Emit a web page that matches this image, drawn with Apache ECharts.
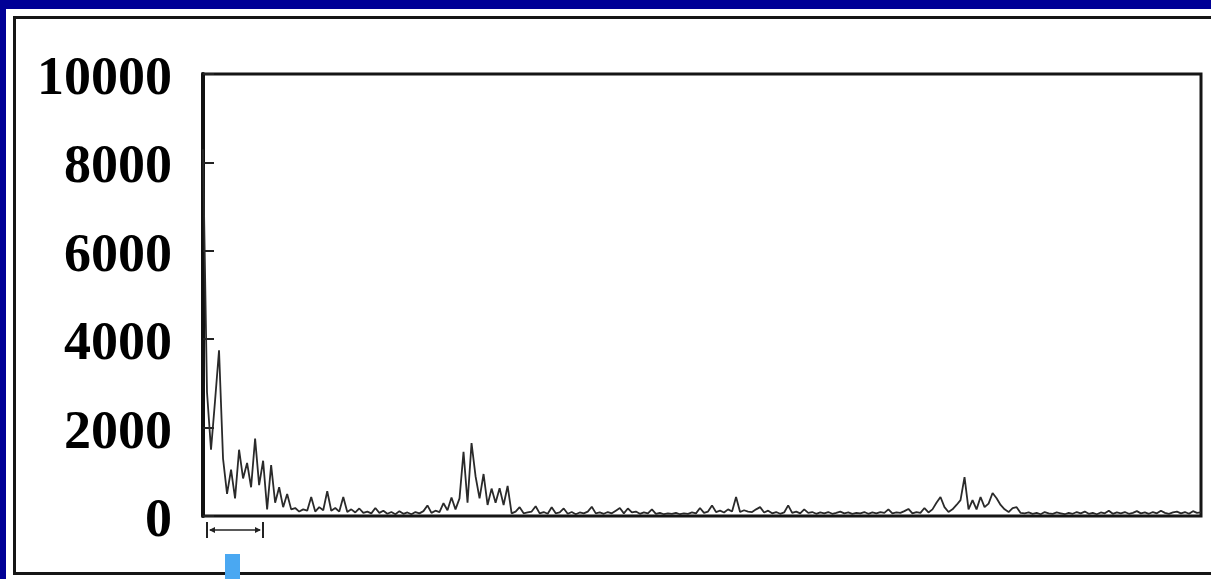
<!DOCTYPE html>
<html>
<head>
<meta charset="utf-8">
<script src="https://cdn.jsdelivr.net/npm/echarts@6/dist/echarts.min.js"></script>
<style>
  html, body { margin: 0; padding: 0; background: #000096; overflow: hidden; }
  #panel { position: absolute; left: 6px; top: 9px; width: 1220px; height: 580px; background: #ffffff; }
  #frame { position: absolute; left: 13px; top: 16px; width: 1230px; height: 553px; border: 3px solid #151515; }
  #chart { position: absolute; left: 0; top: 0; width: 1211px; height: 579px; }
</style>
</head>
<body>
<div id="panel"></div>
<div id="frame"></div>
<div id="chart"></div>
<script>
// y-axis tick labels
const yTicks = [0, 2000, 4000, 6000, 8000, 10000];

// signal intensity, one value per sample (250 samples)
const signal = [
  8300, 2800, 1500, 2600, 3750, 1300, 500, 1050, 400, 1500,
  850, 1200, 650, 1750, 700, 1250, 150, 1150, 300, 650,
  200, 500, 150, 180, 100, 150, 120, 430, 100, 200,
  130, 560, 120, 180, 100, 430, 90, 150, 80, 170,
  70, 100, 60, 180, 70, 120, 50, 90, 40, 110,
  50, 80, 40, 90, 60, 110, 240, 70, 120, 90,
  290, 130, 420, 150, 400, 1450, 300, 1650, 900, 400,
  950, 250, 620, 300, 630, 250, 680, 60, 100, 200,
  60, 80, 100, 220, 60, 90, 50, 200, 60, 80,
  170, 50, 90, 40, 80, 60, 100, 210, 60, 80,
  50, 90, 60, 120, 180, 60, 170, 80, 100, 50,
  80, 60, 150, 50, 70, 40, 60, 50, 70, 40,
  60, 50, 80, 60, 180, 70, 100, 240, 90, 120,
  80, 150, 100, 430, 90, 130, 100, 90, 150, 200,
  80, 120, 60, 90, 50, 80, 240, 70, 100, 60,
  150, 70, 90, 50, 80, 60, 90, 50, 70, 100,
  60, 80, 50, 70, 60, 90, 50, 80, 60, 90,
  70, 150, 60, 80, 70, 110, 160, 60, 90, 70,
  180, 80, 150, 300, 430, 200, 90, 150, 250, 360,
  880, 150, 360, 150, 430, 200, 280, 520, 400, 250,
  150, 90, 180, 200, 70, 60, 80, 50, 70, 40,
  90, 60, 50, 80, 60, 40, 70, 50, 90, 60,
  100, 50, 70, 40, 80, 60, 120, 50, 80, 60,
  90, 50, 70, 110, 60, 80, 50, 90, 60, 120,
  70, 50, 80, 100, 60, 90, 50, 110, 70, 80
];

const samples = signal.map((_, i) => i);

const chart = echarts.init(document.getElementById('chart'), null, { renderer: 'canvas' });

chart.setOption({
  backgroundColor: 'transparent',
  animation: false,
  grid: {
    left: 203, right: 10, top: 74, bottom: 63,
    show: true, borderColor: '#151515', borderWidth: 3,
    backgroundColor: 'transparent'
  },
  xAxis: {
    type: 'category',
    data: samples,
    boundaryGap: false,
    axisLine: { show: false },
    axisTick: { show: false },
    axisLabel: { show: false },
    splitLine: { show: false }
  },
  yAxis: {
    type: 'value',
    min: 0, max: 10000, interval: 2000,
    axisLine: { show: true, lineStyle: { color: '#111', width: 4 } },
    axisTick: { show: true, inside: true, length: 11, lineStyle: { color: '#222', width: 2 } },
    splitLine: { show: false },
    axisLabel: {
      margin: 31,
      color: '#000',
      fontFamily: '"Liberation Serif", "DejaVu Serif", serif',
      fontWeight: 'bold',
      fontSize: 54,
      verticalAlign: 'top',
      lineHeight: 12,
      formatter: v => yTicks.includes(v) ? String(v) : ''
    }
  },
  series: [{
    type: 'line',
    data: signal,
    symbol: 'none',
    lineStyle: { color: '#2a2a2a', width: 1.8 },
    z: 3
  }],
  graphic: [
    // bracket below the x axis
    { type: 'line', z: 50, shape: { x1: 207, y1: 522, x2: 207, y2: 538 }, style: { stroke: '#222', lineWidth: 2 } },
    { type: 'line', z: 50, shape: { x1: 263, y1: 522, x2: 263, y2: 538 }, style: { stroke: '#222', lineWidth: 2 } },
    { type: 'line', z: 50, shape: { x1: 210, y1: 530, x2: 260, y2: 530 }, style: { stroke: '#222', lineWidth: 1.5 } },
    { type: 'polygon', z: 50, shape: { points: [[209, 530], [215, 527], [215, 533]] }, style: { fill: '#222' } },
    { type: 'polygon', z: 50, shape: { points: [[261, 530], [255, 527], [255, 533]] }, style: { fill: '#222' } },
    // blue pointer marker
    { type: 'rect', z: 60, shape: { x: 225, y: 554, width: 15, height: 30 }, style: { fill: '#4aa8f2' } }
  ]
});
</script>
</body>
</html>
